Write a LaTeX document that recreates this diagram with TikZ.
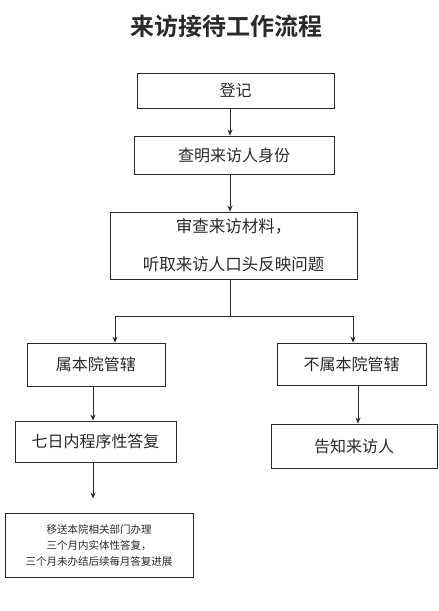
\documentclass[tikz,border=0pt]{standalone}
\usepackage{fontspec}
\usetikzlibrary{arrows.meta,calc}
\newfontfamily\cjk{Noto Sans CJK SC}
\newfontfamily\cjkb{Noto Sans CJK SC Bold}
\definecolor{ink}{HTML}{2A2A2A}
\begin{document}
\begin{tikzpicture}[x=1pt,y=-1pt,
  box/.style={draw=ink,line width=0.9pt,inner sep=0pt,align=center,text=ink,font=\cjk\fontsize{16}{19}\selectfont},
  arr/.style={draw=ink,line width=0.9pt,-{Stealth[length=6pt,width=5pt]}},
  ln/.style={draw=ink,line width=0.9pt}]
\useasboundingbox (0,0) rectangle (439,611);
\fill[white] (0,0) rectangle (439,611);
\node[text=ink,font=\cjkb\fontsize{24}{28}\selectfont] (title) at (226,26) {来访接待工作流程};
\node[box,minimum width=197pt,minimum height=35pt] (b1) at (235.5,90.5) {登记};
\node[box,minimum width=200pt,minimum height=38pt] (b2) at (234,155) {查明来访人身份};
\node[box,minimum width=247pt,minimum height=67pt,font=\cjk\fontsize{16.5}{38}\selectfont] (b3) at (233.5,245.5) {审查来访材料，\\听取来访人口头反映问题};
\node[box,minimum width=138pt,minimum height=43pt] (l1) at (96,364.5) {属本院管辖};
\node[box,minimum width=149pt,minimum height=42pt] (r1) at (351.5,364) {不属本院管辖};
\node[box,minimum width=161pt,minimum height=41pt] (l2) at (95.5,441.5) {七日内程序性答复};
\node[box,minimum width=166pt,minimum height=44pt] (r2) at (354,446) {告知来访人};
\node[box,minimum width=188pt,minimum height=64pt,font=\cjk\fontsize{10.5}{16}\selectfont] (l3) at (99,545) {移送本院相关部门办理\\三个月内实体性答复，\\三个月未办结后续每月答复进展};
\coordinate (cx) at (230,0);
\coordinate (sp) at (230,316);
\coordinate (lx) at (115,0);
\coordinate (rx) at (353,0);
\coordinate (lx2) at (93,0);
\coordinate (rx2) at (358,0);
\draw[arr] (b1.south -| cx) -- (b2.north -| cx);
\draw[arr] (b2.south -| cx) -- (b3.north -| cx);
\draw[ln] (b3.south -| cx) -- (sp);
\draw[ln] (sp -| lx) -- (sp -| rx);
\draw[arr] (sp -| lx) -- (l1.north -| lx);
\draw[arr] (sp -| rx) -- (r1.north -| rx);
\draw[arr] (l1.south -| lx2) -- (l2.north -| lx2);
\draw[arr] (r1.south -| rx2) -- (r2.north -| rx2);
\draw[arr,shorten >=14pt] (l2.south -| lx2) -- (l3.north -| lx2);
\end{tikzpicture}
\end{document}
